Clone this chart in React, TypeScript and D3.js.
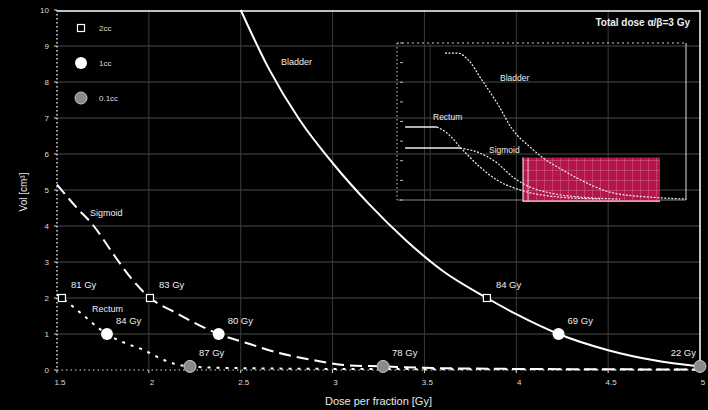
import React from "react";
import * as d3 from "d3";

const W = 708, H = 410;
const M = { left: 57, right: 700, top: 10, bottom: 370 };

const xTicks = [1.5, 2, 2.5, 3, 3.5, 4, 4.5, 5];
const yTicks = [0, 1, 2, 3, 4, 5, 6, 7, 8, 9, 10];

// main curves: dose per fraction [Gy] vs volume [cm3]
const bladderDose = [2.5, 2.65, 2.82, 3.0, 3.2, 3.4, 3.6, 3.84, 4.0, 4.23, 4.5, 4.75, 5.0];
const bladderVol = [10, 8.4, 6.95, 5.75, 4.6, 3.6, 2.75, 2.0, 1.55, 1.0, 0.55, 0.27, 0.1];
const sigmoidDose = [1.5, 1.6, 1.7, 1.8, 1.9, 2.0, 2.15, 2.38, 2.55, 2.71, 2.89, 3.08, 3.27, 3.5, 4.0, 4.5, 5.0];
const sigmoidVol = [5.15, 4.55, 4.0, 3.27, 2.57, 2.03, 1.58, 1.0, 0.72, 0.47, 0.28, 0.13, 0.1, 0.06, 0.03, 0.02, 0.01];
const rectumDose = [1.5, 1.527, 1.63, 1.72, 1.772, 1.87, 1.97, 2.06, 2.14, 2.224, 2.4, 3.0, 4.0, 5.0];
const rectumVol = [2.1, 2.0, 1.58, 1.19, 1.0, 0.75, 0.56, 0.33, 0.17, 0.1, 0.06, 0.03, 0.02, 0.01];

// marker volumes & where each organ reaches them
const markerVols = [2, 1, 0.1];
const legendLabels = ["2cc", "1cc", "0.1cc"];
const bladderMarkDose = [3.84, 4.23, 5.0];
const sigmoidMarkDose = [2.006, 2.38, 3.275];
const rectumMarkDose = [1.527, 1.772, 2.224];
const bladderMarkLabels = ["84 Gy", "69 Gy", "22 Gy"];
const sigmoidMarkLabels = ["83 Gy", "80 Gy", "78 Gy"];
const rectumMarkLabels = ["81 Gy", "84 Gy", "87 Gy"];

// inset curves (relative units 0-100)
const inBladderX = [16.6, 20.8, 25.3, 28.7, 34.6, 40.1, 46.0, 50.5, 57.4, 65.7, 74.7, 92.0, 100];
const inBladderY = [93.6, 93.6, 87.9, 78.3, 61.8, 44.6, 33.8, 26.8, 19.1, 10.8, 4.5, 1.3, 0.6];
const inRectumX = [13.8, 17.3, 22.8, 28.7, 34.6, 42.6, 52.9, 70.2];
const inRectumY = [46.5, 42.7, 31.8, 21.0, 12.7, 6.4, 2.5, 0.6];
const inSigmoidX = [21.8, 28.7, 34.6, 40.1, 46.0, 52.9, 63.3, 77.2];
const inSigmoidY = [33.1, 29.9, 23.6, 14.6, 8.3, 4.5, 1.9, 0.6];
const inRectumFlat = [2.8, 13.8, 46.5];
const inSigmoidFlat = [2.8, 21.8, 33.1];
const inRegion = [43.6, 91, -1.3, 27];
const inTicks = [0, 12.5, 25, 37.5, 50, 62.5, 75, 87.5, 100];

const FONT = "'Liberation Sans', Arial, sans-serif";

export default function App() {
  const x = d3.scaleLinear().domain([1.5, 5]).range([M.left, M.right]);
  const y = d3.scaleLinear().domain([0, 10]).range([M.bottom, M.top]);
  const ix = d3.scaleLinear().domain([0, 100]).range([397, 686]);
  const iy = d3.scaleLinear().domain([0, 100]).range([200, 43]);

  const line = d3.line<[number, number]>().x(d => x(d[0])).y(d => y(d[1])).curve(d3.curveMonotoneX);
  const iline = d3.line<[number, number]>().x(d => ix(d[0])).y(d => iy(d[1])).curve(d3.curveMonotoneX);
  const zip = (a: number[], b: number[]) => a.map((v, i) => [v, b[i]] as [number, number]);

  const marker = (k: number, cx: number, cy: number, key: string) => {
    if (k === 0) return <rect key={key} x={cx - 3.5} y={cy - 3.5} width={7} height={7} fill="black" stroke="white" strokeWidth={1.2} />;
    if (k === 1) return <circle key={key} cx={cx} cy={cy} r={6} fill="white" />;
    return <circle key={key} cx={cx} cy={cy} r={6} fill="#8a8a8a" stroke="#c8c8c8" strokeWidth={1} />;
  };

  const organs = [
    { dose: bladderMarkDose, labels: bladderMarkLabels, name: "b" },
    { dose: sigmoidMarkDose, labels: sigmoidMarkLabels, name: "s" },
    { dose: rectumMarkDose, labels: rectumMarkLabels, name: "r" },
  ];

  const regionW = ix(inRegion[1]) - ix(inRegion[0]);
  const regionH = iy(inRegion[2]) - iy(inRegion[3]);

  return (
    <svg width={W} height={H} style={{ position: "absolute", left: 0, top: 0, background: "black", fontFamily: FONT }}>
      <rect x={0} y={0} width={W} height={H} fill="black" />
      <defs>
        <pattern id="pinkgrid" width={8} height={10} patternUnits="userSpaceOnUse">
          <rect width={8} height={10} fill="#b3164b" />
          <path d="M0 0 V10 M0 0 H8" stroke="#e2789a" strokeWidth={0.8} />
        </pattern>
      </defs>
      {/* grid */}
      {yTicks.slice(1, -1).map(t => (
        <line key={"gy" + t} x1={M.left} x2={M.right} y1={y(t)} y2={y(t)} stroke="#4a4a4a" strokeWidth={1} />
      ))}
      {xTicks.slice(1, -1).map(t => (
        <line key={"gx" + t} x1={x(t)} x2={x(t)} y1={M.top} y2={M.bottom} stroke="#3a3a3a" strokeWidth={1} />
      ))}
      {/* frame */}
      <line x1={M.left} x2={M.right} y1={M.top + 1} y2={M.top + 1} stroke="white" strokeWidth={1.5} />
      <line x1={M.right} x2={M.right} y1={M.top} y2={M.bottom} stroke="white" strokeWidth={1.5} />
      <line x1={M.left} x2={M.left} y1={M.top} y2={M.bottom} stroke="#ddd" strokeWidth={1.5} strokeDasharray="1.5,2.5" />
      <line x1={M.left} x2={M.right} y1={M.bottom} y2={M.bottom} stroke="#ddd" strokeWidth={1.2} strokeDasharray="1.5,3" />
      {yTicks.map(t => (
        <g key={"yt" + t}>
          <line x1={M.left - 3} x2={M.left} y1={y(t)} y2={y(t)} stroke="#ddd" />
          <text x={M.left - 8} y={y(t) + 3} fontSize={8} fill="#ddd" textAnchor="end">{t}</text>
        </g>
      ))}
      {xTicks.map(t => (
        <g key={"xt" + t}>
          <line x1={x(t)} x2={x(t)} y1={M.bottom} y2={M.bottom + 3} stroke="#ddd" />
          <text x={x(t) + 3} y={M.bottom + 15} fontSize={8} fill="#ddd" textAnchor="middle">{t}</text>
        </g>
      ))}
      <text x={(M.left + M.right) / 2} y={405} fontSize={11} fill="#e8e8e8" textAnchor="middle">Dose per fraction [Gy]</text>
      <text transform={`translate(27,${192}) rotate(-90)`} fontSize={10} fill="#e8e8e8" textAnchor="middle">Vol [cm³]</text>

      {/* inset */}
      <g>
        <line x1={ix(0)} x2={ix(100)} y1={iy(100)} y2={iy(100)} stroke="#ccc" strokeWidth={1} strokeDasharray="2,3" />
        <line x1={ix(0)} x2={ix(0)} y1={iy(100)} y2={iy(0)} stroke="#ccc" strokeWidth={1} strokeDasharray="1.5,2.5" />
        <line x1={ix(100)} x2={ix(100)} y1={iy(100)} y2={iy(0)} stroke="#ddd" strokeWidth={1} />
        <line x1={ix(0)} x2={ix(100)} y1={iy(0)} y2={iy(0)} stroke="#888" strokeWidth={1} />
        <line x1={ix(11.5)} x2={ix(11.5)} y1={iy(100)} y2={iy(0)} stroke="#333" strokeWidth={1} />
        {inTicks.map(t => (
          <line key={"it" + t} x1={ix(0) + 3} x2={ix(0) + 6} y1={iy(t)} y2={iy(t)} stroke="#bbb" strokeWidth={1} />
        ))}
        <rect x={ix(inRegion[0])} y={iy(inRegion[3])} width={regionW} height={regionH} fill="url(#pinkgrid)" />
        <line x1={ix(inRegion[0])} x2={ix(inRegion[0])} y1={iy(inRegion[3])} y2={iy(inRegion[2])} stroke="#f4d0dc" strokeWidth={1.2} />
        <line x1={ix(inRegion[0]) + 5} x2={ix(inRegion[0]) + 5} y1={iy(inRegion[3])} y2={iy(inRegion[2])} stroke="#f4d0dc" strokeWidth={0.8} />
        <line x1={ix(inRegion[0])} x2={ix(inRegion[1])} y1={iy(inRegion[2]) - 1} y2={iy(inRegion[2]) - 1} stroke="#f0c0d0" strokeWidth={1.2} />
        <path d={iline(zip(inBladderX, inBladderY)) || ""} fill="none" stroke="#eee" strokeWidth={1.2} strokeDasharray="2,1.5" />
        <path d={iline(zip(inRectumX, inRectumY)) || ""} fill="none" stroke="#eee" strokeWidth={1.2} strokeDasharray="2,1.5" />
        <path d={iline(zip(inSigmoidX, inSigmoidY)) || ""} fill="none" stroke="#eee" strokeWidth={1.2} strokeDasharray="2,1.5" />
        <line x1={ix(inRectumFlat[0])} x2={ix(inRectumFlat[1])} y1={iy(inRectumFlat[2])} y2={iy(inRectumFlat[2])} stroke="#eee" strokeWidth={1.5} />
        <line x1={ix(inSigmoidFlat[0])} x2={ix(inSigmoidFlat[1])} y1={iy(inSigmoidFlat[2])} y2={iy(inSigmoidFlat[2])} stroke="#eee" strokeWidth={1.5} />
        <text x={500} y={81} fontSize={8.5} fill="#eee">Bladder</text>
        <text x={433} y={120} fontSize={8.5} fill="#eee">Rectum</text>
        <text x={489} y={153} fontSize={8.5} fill="#eee">Sigmoid</text>
      </g>

      {/* curves */}
      <path d={line(zip(bladderDose, bladderVol)) || ""} fill="none" stroke="white" strokeWidth={2} />
      <path d={line(zip(sigmoidDose, sigmoidVol)) || ""} fill="none" stroke="white" strokeWidth={2} strokeDasharray="12,6" />
      <path d={line(zip(rectumDose, rectumVol)) || ""} fill="none" stroke="white" strokeWidth={2} strokeDasharray="3,6" />

      <text x={281} y={65} fontSize={9} fill="#eee">Bladder</text>
      <text x={90} y={216} fontSize={9} fill="#eee">Sigmoid</text>
      <text x={92} y={312} fontSize={9} fill="#eee">Rectum</text>

      {/* markers + dose labels */}
      {organs.map(o => o.dose.map((dd, k) => {
        const cx = x(dd), cy = y(markerVols[k]);
        const atEdge = cx > M.right - 20;
        return (
          <g key={o.name + k}>
            {marker(k, cx, cy, o.name + "m" + k)}
            <text x={atEdge ? cx - 4 : cx + 9} y={cy - 10} fontSize={9.5} fill="#eee" textAnchor={atEdge ? "end" : "start"}>{o.labels[k]}</text>
          </g>
        );
      }))}

      {/* legend */}
      {legendLabels.map((l, k) => (
        <g key={"lg" + k}>
          {marker(k, 81, 28 + k * 35, "lgm" + k)}
          <text x={99} y={31 + k * 35} fontSize={8} fill="#ddd">{l}</text>
        </g>
      ))}

      <text x={690} y={26} fontSize={10} fontWeight="bold" fill="#eee" textAnchor="end">Total dose α/β=3 Gy</text>
    </svg>
  );
}
